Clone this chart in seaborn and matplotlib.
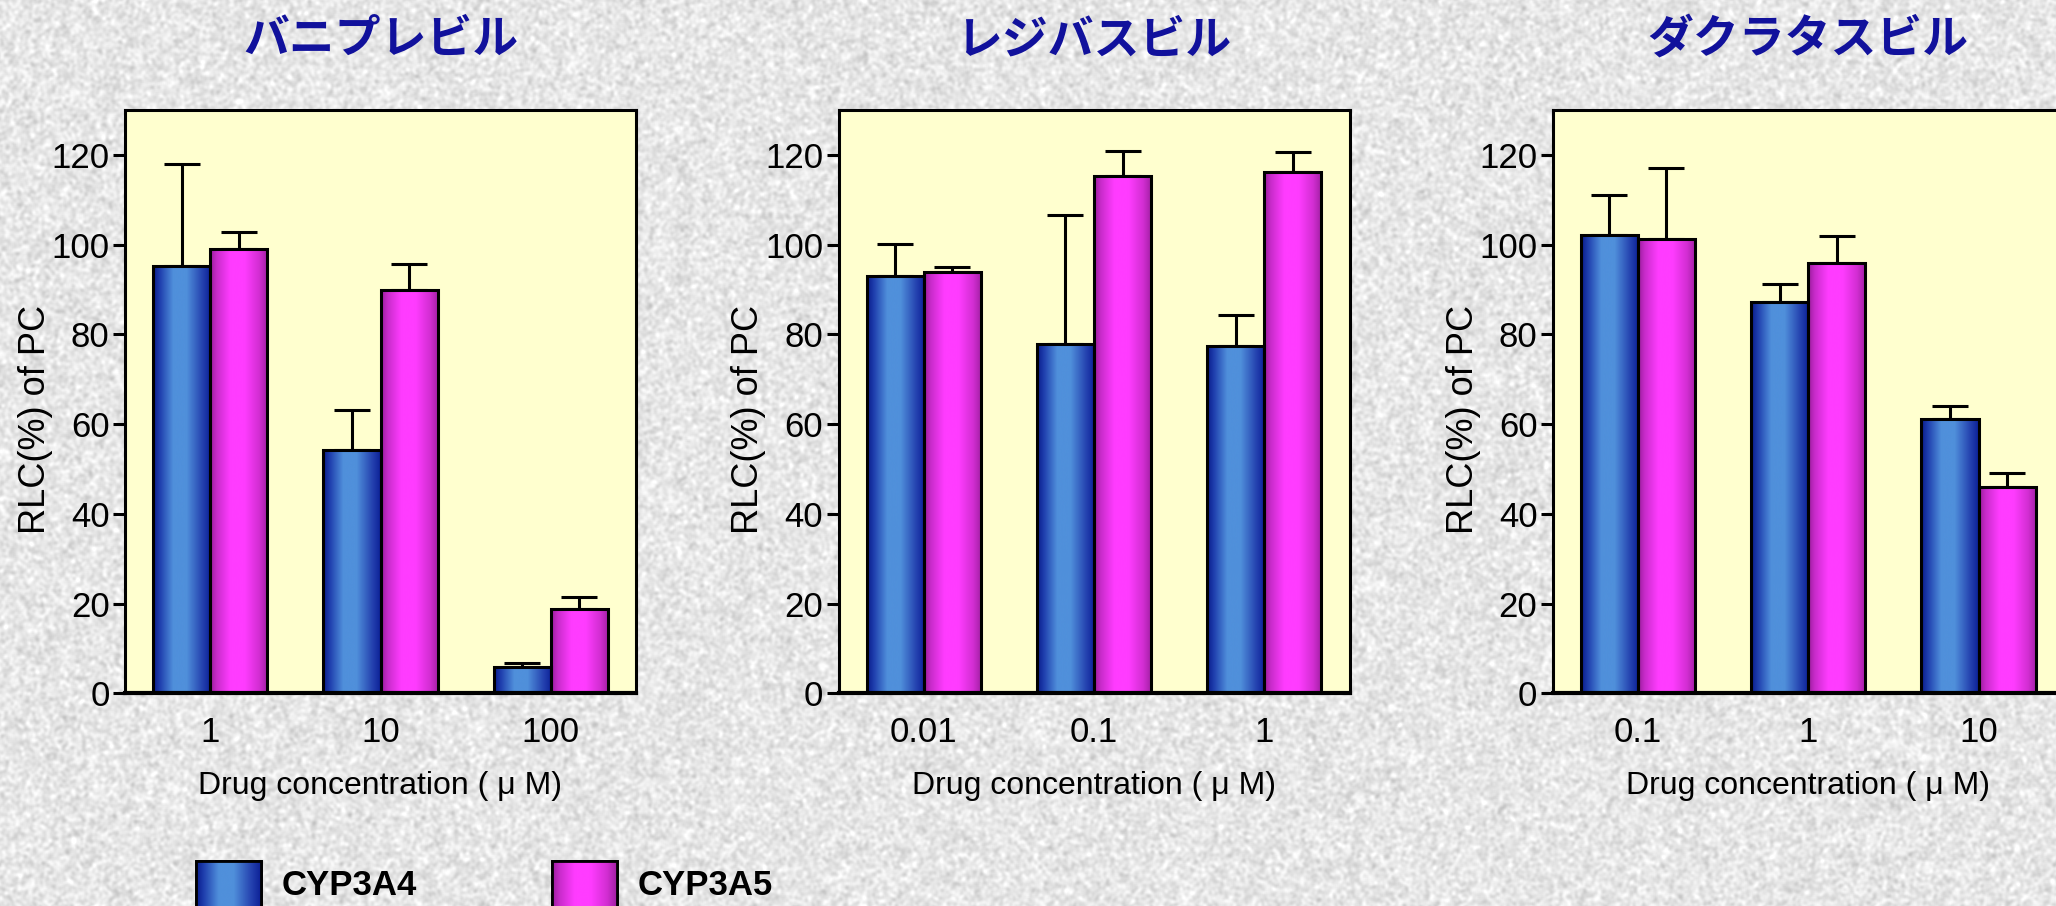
import numpy as np
import pandas as pd
import matplotlib
matplotlib.use("Agg")
import matplotlib.pyplot as plt
from matplotlib.colors import LinearSegmentedColormap
from matplotlib.patches import Patch, Rectangle
import seaborn as sns

# ---- data -------------------------------------------------------------
enzymes = ["CYP3A4", "CYP3A5"]

titles = ["バニプレビル", "レジバスビル", "ダクラタスビル"]
concentrations = [
    ["1", "10", "100"],
    ["0.01", "0.1", "1"],
    ["0.1", "1", "10"],
]
cyp3a4_mean = [
    [95.2, 54.3, 5.8],
    [93.0, 77.8, 77.4],
    [102.2, 87.3, 61.1],
]
cyp3a4_sd = [
    [22.8, 8.8, 0.9],
    [7.1, 28.9, 6.9],
    [8.9, 3.9, 2.9],
]
cyp3a5_mean = [
    [99.0, 89.9, 18.8],
    [94.0, 115.3, 116.2],
    [101.3, 96.0, 45.9],
]
cyp3a5_sd = [
    [3.8, 5.7, 2.6],
    [0.9, 5.5, 4.5],
    [15.7, 5.9, 3.2],
]
y_ticks = [0, 20, 40, 60, 80, 100, 120]

# ---- style ------------------------------------------------------------
sns.set_style("ticks")
plt.rcParams["font.family"] = ["Liberation Sans", "Noto Sans CJK JP", "DejaVu Sans"]
plt.rcParams["text.color"] = "black"
plt.rcParams["axes.labelcolor"] = "black"

base_colors = {"CYP3A4": "#4a86d4", "CYP3A5": "#ff3cff"}
cmaps = {
    "CYP3A4": LinearSegmentedColormap.from_list(
        "blue_cyl",
        [(0.0, "#081a8a"), (0.12, "#1f3fae"), (0.35, "#5090db"),
         (0.58, "#5090db"), (0.85, "#2543b0"), (1.0, "#0c2096")]),
    "CYP3A5": LinearSegmentedColormap.from_list(
        "magenta_cyl",
        [(0.0, "#9a1c9c"), (0.12, "#c92ccb"), (0.35, "#ff3cff"),
         (0.6, "#ff3cff"), (0.85, "#d22ed2"), (1.0, "#a01fa2")]),
}
grad = np.linspace(0, 1, 256)[np.newaxis, :]

W, H = 2056, 906
fig = plt.figure(figsize=(W / 100, H / 100), dpi=100)
fig.patch.set_facecolor("#e4e4e4")

# speckled paper texture behind everything
rng = np.random.default_rng(11)
tex = rng.random((H, W))
for _ in range(3):
    tex = (tex + np.roll(tex, 1, 0) + np.roll(tex, -1, 0)) / 3
    tex = (tex + np.roll(tex, 1, 1) + np.roll(tex, -1, 1)) / 3
tex = (tex - tex.mean()) / tex.std()
tex = np.clip(0.905 + 0.035 * tex, 0, 1)
fig.figimage(np.dstack([tex, tex, tex]), xo=0, yo=0, origin="upper", zorder=-10)

lefts = [125 / W, 838.5 / W, 1552.7 / W]
bottom = (H - 693.3) / H
width = 511 / W
height = 583.3 / H

for i in range(3):
    ax = fig.add_axes([lefts[i], bottom, width, height])
    ax.set_facecolor("#ffffcf")

    df = pd.DataFrame({
        "conc": concentrations[i] * 2,
        "enzyme": [enzymes[0]] * 3 + [enzymes[1]] * 3,
        "value": cyp3a4_mean[i] + cyp3a5_mean[i],
        "sd": cyp3a4_sd[i] + cyp3a5_sd[i],
    })

    sns.barplot(data=df, x="conc", y="value", hue="enzyme",
                order=concentrations[i], hue_order=enzymes,
                palette=base_colors, width=0.67, gap=0, errorbar=None,
                edgecolor="black", linewidth=2.2, legend=False, ax=ax)

    # one-sided SD bars and cylinder shading on each bar
    for container, enz in zip(ax.containers, enzymes):
        sub = df[df["enzyme"] == enz].set_index("conc").loc[concentrations[i]]
        xs, ys = [], []
        for patch in container.patches:
            x0, w, h = patch.get_x(), patch.get_width(), patch.get_height()
            ax.imshow(grad, cmap=cmaps[enz], extent=(x0, x0 + w, 0, h),
                      aspect="auto", interpolation="bicubic", zorder=2.05)
            patch.set_facecolor("none")
            patch.set_zorder(2.1)
            xs.append(x0 + w / 2)
            ys.append(h)
        ax.errorbar(xs, ys, yerr=[np.zeros(len(ys)), sub["sd"].values],
                    fmt="none", ecolor="black", elinewidth=2.2, capsize=13,
                    capthick=2.2, zorder=1.5)

    ax.set_xlim(-0.5, 2.5)
    ax.set_ylim(0, 130)
    ax.set_yticks(y_ticks)

    for side in ["left", "right", "top"]:
        ax.spines[side].set_visible(True)
        ax.spines[side].set_linewidth(2.2)
        ax.spines[side].set_color("black")
    ax.spines["bottom"].set_linewidth(3.0)
    ax.spines["bottom"].set_color("black")

    ax.tick_params(axis="y", direction="out", length=9, width=2.2,
                   labelsize=25, pad=2, colors="black")
    ax.tick_params(axis="x", length=0, labelsize=25, pad=16, colors="black")

    ax.set_xlabel("Drug concentration ( μ M)", fontsize=23, labelpad=16,
                  color="black")
    ax.set_ylabel("RLC(%) of PC", fontsize=26, color="black")
    ax.yaxis.set_label_coords(-0.141, 0.47)
    ax.set_title(titles[i], fontsize=33, fontweight="bold", color="#11119c",
                 pad=41, family=["Noto Sans CJK JP", "DejaVu Sans"])

# legend along the bottom edge
handles = [Patch(facecolor=base_colors[e], edgecolor="black", linewidth=2.0)
           for e in enzymes]
leg = fig.legend(handles, enzymes, loc="upper left",
                 bbox_to_anchor=(195.7 / W, 45 / H), ncol=2, frameon=False,
                 prop={"family": "Liberation Sans", "weight": "bold", "size": 25},
                 labelcolor="black",
                 handlelength=1.87, handleheight=1.65, handletextpad=0.6,
                 columnspacing=3.9, borderpad=0, borderaxespad=0)

fig.canvas.draw()
renderer = fig.canvas.get_renderer()
for hnd, enz in zip(leg.legend_handles, enzymes):
    bb = hnd.get_window_extent(renderer).transformed(fig.transFigure.inverted())
    lax = fig.add_axes([bb.x0, bb.y0, bb.width, bb.height], zorder=6)
    lax.imshow(grad, cmap=cmaps[enz], extent=(0, 1, 0, 1), aspect="auto",
               interpolation="bicubic")
    lax.set_xlim(0, 1)
    lax.set_ylim(0, 1)
    lax.set_axis_off()
    lax.add_patch(Rectangle((0, 0), 1, 1, transform=lax.transAxes,
                            fill=False, edgecolor="black", linewidth=2.0,
                            clip_on=False))

fig.savefig("out.png", dpi=100, facecolor=fig.get_facecolor())
